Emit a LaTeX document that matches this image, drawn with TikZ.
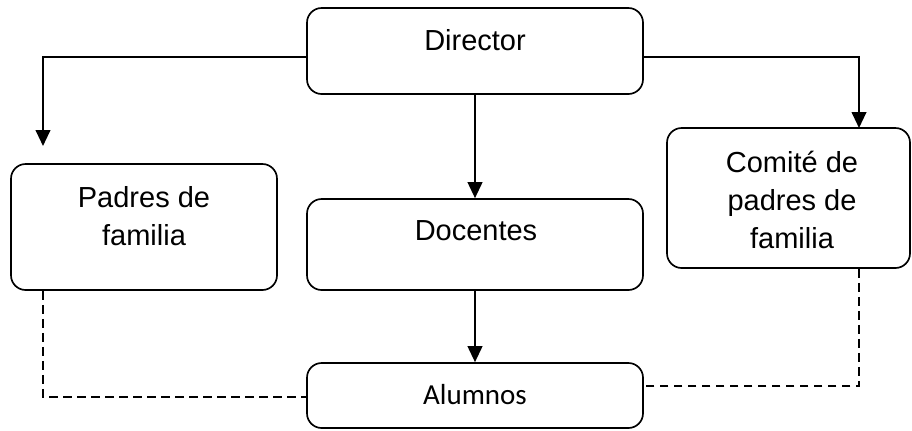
\documentclass[tikz,border=0pt]{standalone}
\usepackage{fontspec}
\setmainfont{Liberation Sans}
\newfontfamily\alufont{Carlito}
\usetikzlibrary{arrows.meta}
\usetikzlibrary{positioning}

\begin{document}
\begin{tikzpicture}[x=0.75pt,y=-0.75pt,->,>={Triangle[length=12pt,width=11pt]},
    box node/.style={draw,rounded corners=11pt,line width=1.25pt,inner sep=0pt},
    label node/.style={anchor=base,inner sep=0pt,align=center,font=\fontsize{21.75}{28.3}\selectfont},
    link/.style={->,line width=1.5pt},
    dash link/.style={-,line width=1.1pt,dash pattern=on 6.5pt off 4pt}]
  \useasboundingbox (0,0) rectangle (912,430);
  % boxes
  \node[box node,minimum width=252pt,minimum height=64.5pt] (dir) at (475,51) {};
  \node[box node,minimum width=199.5pt,minimum height=94.5pt] (pad) at (144,227) {};
  \node[box node,minimum width=252pt,minimum height=68.25pt] (doc) at (475,244.5) {};
  \node[box node,minimum width=182.25pt,minimum height=105pt] (com) at (788.5,198) {};
  \node[box node,minimum width=252pt,minimum height=48.75pt] (alu) at (475,395.5) {};
  % texts (base = last line)
  \node[label node] (dirtxt) at (475,50) {Director};
  \node[label node] (padtxt) at (144,245) {Padres de\\familia};
  \node[label node] (doctxt) at (476,240) {Docentes};
  \node[label node] (comtxt) at (792,248) {Comité de\\padres de\\familia};
  \node[label node,font=\alufont\fontsize{21.75}{26}\selectfont] (alutxt) at (475,404) {Alumnos};
  \coordinate (padin) at (43,146);
  \coordinate (comin) at (859,128);
  % connectors
  \draw[link] ([yshift=-4.5pt]dir.west) -| (padin);
  \draw[link] ([yshift=-4.5pt]dir.east) -| (comin);
  \draw[link] (dir.south) -- (doc.north);
  \draw[link] (doc.south) -- (alu.north);
  \draw[dash link] (pad.south -| padin) |- ([yshift=-1pt]alu.west);
  \draw[dash link] (com.south -| comin) |- ([yshift=7pt]alu.east);
\end{tikzpicture}
\end{document}
